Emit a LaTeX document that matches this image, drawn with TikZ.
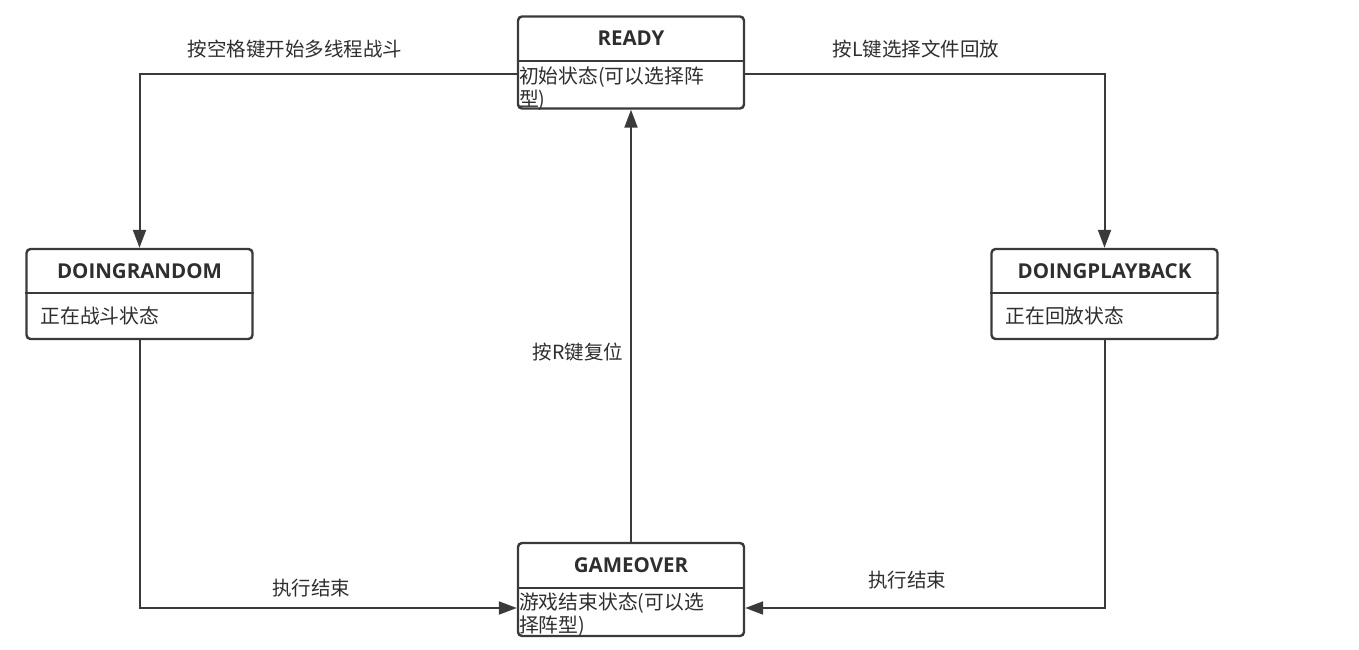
\documentclass[tikz,border=0pt]{standalone}
\usepackage{fontspec}
\setmainfont{Open Sans}
\newfontfamily\cjk{Noto Sans CJK SC}
\usetikzlibrary{arrows.meta,calc}
\definecolor{ink}{HTML}{3A3A3A}
\definecolor{txt}{HTML}{2E2E2E}
\tikzset{
  statebox/.style={draw=ink, line width=2.4pt, rounded corners=4pt, minimum width=226pt, minimum height=92pt, inner sep=0pt},
  titletext/.style={font=\fontsize{20.5}{24}\selectfont\bfseries, text=txt, inner sep=0pt},
  bodytext/.style={font=\cjk\fontsize{19.8}{23}\selectfont, text=txt, inner sep=0pt, anchor=base west, align=left},
  conn/.style={draw=ink, line width=2pt, -{Triangle[length=18pt,width=13pt]}},
  lbl/.style={font=\cjk\fontsize{19.5}{23}\selectfont, text=txt, inner sep=0pt},
  divider/.style={draw=ink, line width=2.4pt}
}
\begin{document}
\begin{tikzpicture}[x=1pt,y=-1pt]
\useasboundingbox (0,0) rectangle (1359,650);
% boxes
\node[statebox] (ready) at (631,62.5) {};
\node[statebox, minimum height=90pt] (random) at (139.5,294) {};
\node[statebox, minimum height=90pt] (playback) at (1104.5,294) {};
\node[statebox, minimum height=93pt] (gameover) at (631,589.5) {};
% dividers
\draw[divider] ([yshift=-46pt]ready.north west) -- ([yshift=-46pt]ready.north east);
\draw[divider] ([yshift=-45pt]random.north west) -- ([yshift=-45pt]random.north east);
\draw[divider] ([yshift=-45pt]playback.north west) -- ([yshift=-45pt]playback.north east);
\draw[divider] ([yshift=-46pt]gameover.north west) -- ([yshift=-46pt]gameover.north east);
% titles
\node[titletext] (readyT) at ([yshift=-23pt]ready.north) {READY};
\node[titletext] (randomT) at ([yshift=-23pt]random.north) {DOINGRANDOM};
\node[titletext] (playbackT) at ([yshift=-23pt]playback.north) {DOINGPLAYBACK};
\node[titletext] (gameoverT) at ([yshift=-23pt]gameover.north) {GAMEOVER};
% bodies (base anchor = baseline of last line)
\node[bodytext] (readyB) at ([xshift=2pt,yshift=-91pt]ready.north west) {初始状态(可以选择阵\\型)};
\node[bodytext] (randomB) at ([xshift=15pt,yshift=-76pt]random.north west) {正在战斗状态};
\node[bodytext] (playbackB) at ([xshift=15pt,yshift=-76pt]playback.north west) {正在回放状态};
\node[bodytext] (gameoverB) at ([xshift=2pt,yshift=-91pt]gameover.north west) {游戏结束状态(可以选\\择阵型)};
% connectors
\draw[conn] ([yshift=-11.5pt]ready.west) -| (random.north);
\draw[conn] ([yshift=-11.5pt]ready.east) -| (playback.north);
\draw[conn] (gameover.north) -- (ready.south);
\draw[conn] (random.south) |- ([yshift=-18.5pt]gameover.west);
\draw[conn] (playback.south) |- ([yshift=-18.5pt]gameover.east);
% labels
\node[lbl] (l1) at (295,49) {按空格键开始多线程战斗};
\node[lbl] (l2) at (916,49) {按L键选择文件回放};
\node[lbl] (l3) at (578,352) {按R键复位};
\node[lbl] (l4) at (311,588) {执行结束};
\node[lbl] (l5) at (907,580) {执行结束};
\end{tikzpicture}
\end{document}
